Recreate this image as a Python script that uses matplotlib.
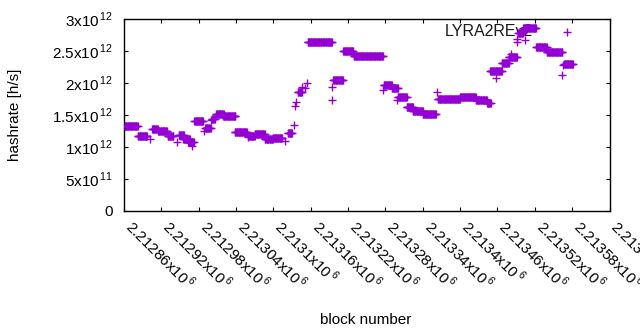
import numpy as np
import matplotlib
matplotlib.use('Agg')
import matplotlib.pyplot as plt

# constant-hashrate stretches: first block, last block, rate [1e12 h/s]
seg_start = [2212861, 2212882, 2212901, 2212905, 2212915, 2212930, 2212945, 2212948,
             2212955, 2212963, 2212969, 2212973, 2212988, 2212990, 2213000, 2213001,
             2213008, 2213019, 2213038, 2213059, 2213060, 2213070, 2213086, 2213099,
             2213118, 2213123, 2213133, 2213134, 2213137, 2213139, 2213146, 2213150,
             2213154, 2213155, 2213194, 2213194, 2213196, 2213212, 2213229, 2213276,
             2213277, 2213290, 2213298, 2213300, 2213314, 2213324, 2213340, 2213363,
             2213364, 2213400, 2213425, 2213443, 2213448, 2213457, 2213467, 2213478,
             2213482, 2213491, 2213492, 2213493, 2213504, 2213501, 2213522, 2213539,
             2213564, 2213565, 2213567, 2213572]
seg_end = [2212882, 2212897, 2212901, 2212914, 2212929, 2212939, 2212945, 2212956,
           2212966, 2212972, 2212969, 2212987, 2212988, 2212999, 2213000, 2213006,
           2213020, 2213039, 2213057, 2213059, 2213070, 2213086, 2213099, 2213114,
           2213118, 2213130, 2213133, 2213134, 2213137, 2213146, 2213146, 2213150,
           2213154, 2213194, 2213194, 2213194, 2213212, 2213228, 2213276, 2213276,
           2213290, 2213300, 2213298, 2213314, 2213324, 2213340, 2213361, 2213363,
           2213400, 2213425, 2213443, 2213449, 2213467, 2213457, 2213478, 2213491,
           2213482, 2213491, 2213492, 2213501, 2213504, 2213522, 2213539, 2213564,
           2213564, 2213565, 2213581, 2213572]
seg_rate = [1.32, 1.17, 1.12, 1.28, 1.24, 1.17, 1.08, 1.18,
            1.12, 1.07, 1.02, 1.40, 1.25, 1.29, 1.42, 1.44,
            1.51, 1.48, 1.23, 1.15, 1.17, 1.20, 1.12, 1.13,
            1.09, 1.21, 1.34, 1.64, 1.70, 1.85, 1.94, 1.92,
            2.00, 2.635, 1.94, 1.74, 2.05, 2.50, 2.415, 1.89,
            1.96, 1.92, 1.74, 1.78, 1.62, 1.565, 1.51, 1.86,
            1.75, 1.78, 1.73, 1.69, 2.18, 2.07, 2.31, 2.41,
            2.45, 2.645, 2.69, 2.78, 2.67, 2.855, 2.56, 2.48,
            2.13, 2.28, 2.29, 2.79]

x_ticks = [2212860, 2212920, 2212980, 2213040, 2213100, 2213160, 2213220,
           2213280, 2213340, 2213400, 2213460, 2213520, 2213580, 2213640]
x_labels = ['2.21286', '2.21292', '2.21298', '2.21304', '2.2131', '2.21316', '2.21322',
            '2.21328', '2.21334', '2.2134', '2.21346', '2.21352', '2.21358', '2.21364']
y_ticks = [0, 0.5e12, 1e12, 1.5e12, 2e12, 2.5e12, 3e12]
y_labels = ['0', '5x10', '1x10', '1.5x10', '2x10', '2.5x10', '3x10']
y_exps = ['', '11', '12', '12', '12', '12', '12']

plt.rcParams['font.family'] = ['Liberation Sans', 'DejaVu Sans']
plt.rcParams['mathtext.fontset'] = 'custom'
plt.rcParams['mathtext.rm'] = 'Liberation Sans'

blocks = np.concatenate([np.arange(s, e + 1) for s, e in zip(seg_start, seg_end)])
rates = np.concatenate([np.full(e - s + 1, r) for s, e, r in zip(seg_start, seg_end, seg_rate)]) * 1e12

fig = plt.figure(figsize=(6.4, 3.3), dpi=100)
ax = fig.add_axes([124 / 640, 1 - 210.7 / 330, 485.5 / 640, 191.7 / 330])

# key title sits under the points, top right of the plot
ax.text(533 / 640, 1 - 31 / 330, 'LYRA2REv2', transform=fig.transFigure, fontsize=11.5,
        ha='right', va='center', color='#1a1a1a', zorder=1)
ax.plot(blocks, rates, '+', color='#9400d3', ms=5.3, mew=1.0, zorder=3)

ax.set_xlim(2212860, 2213640)
ax.set_ylim(0, 3e12)

ax.set_xticks(x_ticks)
ax.set_xticklabels([l + r'x10$^{\,\mathregular{6}}$' for l in x_labels],
                   rotation=-45, ha='left', va='baseline', rotation_mode='anchor')
ax.set_yticks(y_ticks)
ax.set_yticklabels([l + (r'$^{\,\mathregular{%s}}$' % e if e else '')
                    for l, e in zip(y_labels, y_exps)])

ax.tick_params(direction='in', length=3.2, width=0.8, top=True, right=True,
               labelsize=11, colors='black')
ax.tick_params(axis='x', pad=12.5)
ax.tick_params(axis='y', pad=8)
for sp in ax.spines.values():
    sp.set_linewidth(1.0)

fig.text(15 / 640, 1 - 115 / 330, 'hashrate [h/s]', rotation=90, ha='center', va='center', fontsize=11)
fig.text(366 / 640, 1 - 320 / 330, 'block number', ha='center', va='center', fontsize=11)

fig.savefig('out.png', dpi=100)
